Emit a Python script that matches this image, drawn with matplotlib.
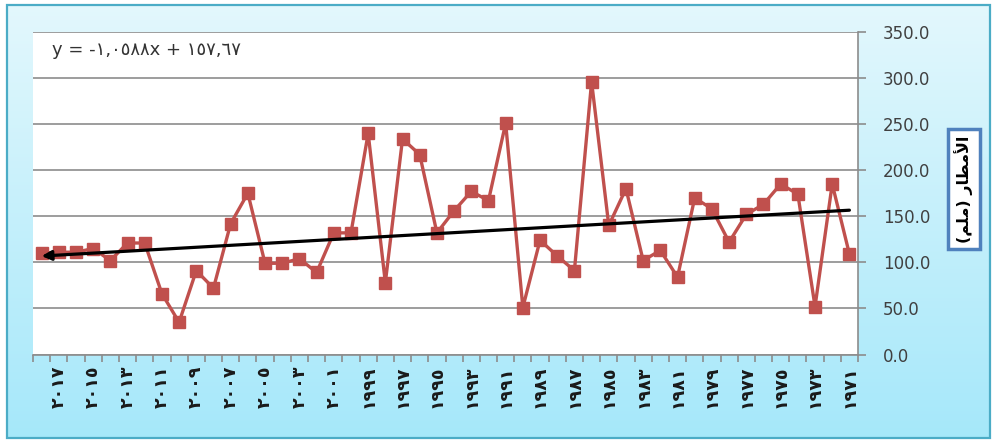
import numpy as np
import matplotlib.pyplot as plt
from matplotlib.patches import Rectangle
from matplotlib.ticker import FixedLocator, FuncFormatter

# سنوات الرصد من 1971 إلى 2018 وكمية الأمطار لكل سنة (ملم)
years = list(range(1971, 2019))
rain = [109, 185, 52, 174, 185, 163, 152, 122, 158, 170,
        84, 113, 102, 180, 140, 296, 91, 107, 124, 51,
        251, 167, 177, 156, 132, 217, 234, 78, 240, 132,
        132, 89, 104, 99, 99, 175, 142, 72, 91, 35,
        66, 121, 121, 102, 115, 111, 111, 110]

# معادلة خط الاتجاه العام
slope, intercept = -1.0588, 157.67
equation = "y = -١,٠٥٨٨x + ١٥٧,٦٧"

yticks = [0, 50, 100, 150, 200, 250, 300, 350]

arabic_digits = str.maketrans("0123456789", "٠١٢٣٤٥٦٧٨٩")

W, H = 992, 441
fig = plt.figure(figsize=(W / 100, H / 100), dpi=100)
fig.patch.set_facecolor("white")

# خلفية منطقة الرسم بتدرج أزرق فاتح
bg = fig.add_axes([0, 0, 1, 1], zorder=-2)
bg.set_xlim(0, W)
bg.set_ylim(H, 0)
bg.axis("off")
grad = np.linspace(0, 1, 256).reshape(-1, 1)
top = np.array([0.89, 0.97, 0.99])
bot = np.array([0.65, 0.91, 0.98])
img = top + (bot - top) * grad[..., None]
bg.imshow(img, extent=[7, 990, 438, 5], aspect="auto")
bg.add_patch(Rectangle((7, 5), 983, 433, fill=False, ec="#4bacc6", lw=1.6))

ax = fig.add_axes([33 / W, 1 - 354.5 / H, (858 - 33) / W, (354.5 - 32) / H])
ax.set_facecolor("white")

x = np.arange(1, len(years) + 1)
ax.plot(x, rain, color="#c0504d", lw=2.4, marker="s", markersize=9,
        markeredgecolor="#c0504d", zorder=3)

# خط الاتجاه بسهم في نهايته
t1 = slope * x[0] + intercept
t2 = slope * x[-1] + intercept
ax.annotate("", xy=(x[-1], t2), xytext=(x[0], t1),
            arrowprops=dict(arrowstyle="-|>", color="black", lw=2.3,
                            mutation_scale=14, shrinkA=0, shrinkB=0),
            zorder=4)

ax.set_xlim(len(years) + 0.5, 0.5)
ax.set_ylim(0, 350)

ax.yaxis.tick_right()
ax.set_yticks(yticks)
ax.yaxis.set_major_formatter(FuncFormatter(lambda v, p: "%.1f" % v))
ax.grid(axis="y", color="#8c8c8c", lw=1.2)
ax.set_axisbelow(True)

ax.xaxis.set_major_locator(FixedLocator(x[::2]))
ax.set_xticklabels([str(y).translate(arabic_digits) for y in years[::2]],
                   rotation=90, fontsize=12.5, fontweight="bold", color="#1a1a1a")
ax.xaxis.set_minor_locator(FixedLocator(np.arange(0.5, len(years) + 1, 1)))
ax.tick_params(axis="x", which="major", length=0, pad=8)
ax.tick_params(axis="x", which="minor", length=5, color="#8c8c8c", width=1.2)
ax.tick_params(axis="y", length=6, color="#8c8c8c", width=1.2, pad=12,
               labelsize=12, labelcolor="#404040")

for s in ["left", "top"]:
    ax.spines[s].set_visible(False)
for s in ["right", "bottom"]:
    ax.spines[s].set_color("#8c8c8c")
    ax.spines[s].set_linewidth(1.2)

fig.text(52 / W, 1 - 50 / H, equation, fontsize=13, color="#333333",
         va="center", ha="left")

# عنوان المحور الرأسي (الأمطار (ملم)) بأشكال الحروف المتصلة
ylabel = "(ﻢﻠﻣ) ﺭﺎﻄﻣﻷﺍ"
fig.text(964 / W, 1 - 189 / H, ylabel, rotation=90, fontsize=11.5,
         fontweight="bold", ha="center", va="center", color="black",
         bbox=dict(boxstyle="square,pad=0.4", fc="white", ec="#4f81bd", lw=2.5))

fig.savefig("out.png", dpi=100)
